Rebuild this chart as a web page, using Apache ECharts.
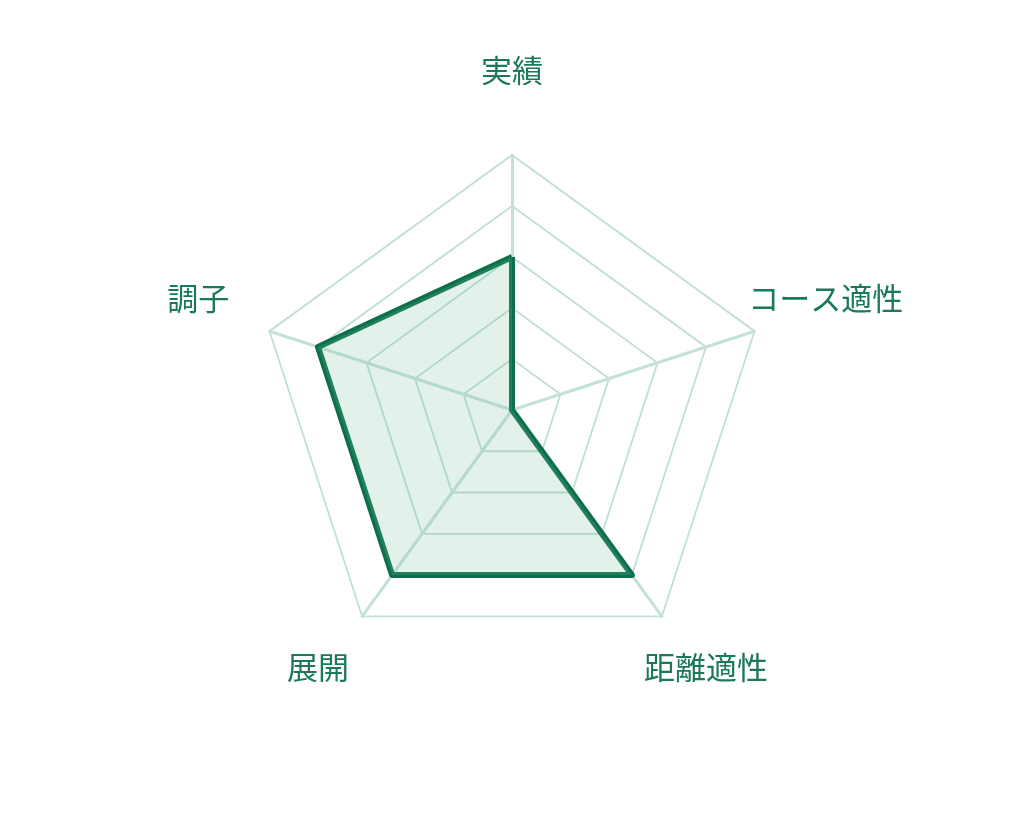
<!DOCTYPE html>
<html><head><meta charset="utf-8">
<script src="https://cdn.jsdelivr.net/npm/echarts@6/dist/echarts.min.js"></script>
<style>html,body{margin:0;padding:0;background:#fff;}#c{width:1024px;height:820px;}</style>
</head><body><div id="c"></div>
<script>
// Listed in ECharts' (counter-clockwise) drawing order, starting at the top
const indicators = ['実績', '調子', '展開', '距離適性', 'コース適性'];
const maxValue = 5;
const values = [3, 4, 4, 4, 0];

const chart = echarts.init(document.getElementById('c'), null, {renderer: 'canvas'});
chart.setOption({
  animation: false,
  backgroundColor: '#ffffff',
  radar: {
    center: ['50%', 410],
    radius: 255,
    startAngle: 90,
    splitNumber: 5,
    shape: 'polygon',
    nameGap: 75,
    axisName: {
      color: '#1a7a57',
      fontSize: 31,
      fontFamily: '"Noto Sans CJK JP", sans-serif',
      align: 'center',
      verticalAlign: 'bottom',
      lineHeight: 20
    },
    indicator: indicators.map(n => ({name: n, max: maxValue, min: 0})),
    splitLine: {lineStyle: {color: '#bfe0d4', width: 1.8}},
    splitArea: {show: false},
    axisLine: {lineStyle: {color: '#c3e2d7', width: 3}},
    axisTick: {show: false},
    axisLabel: {show: false}
  },
  series: [{
    type: 'radar',
    symbol: 'none',
    data: [{
      value: values,
      lineStyle: {color: '#0a6f4a', width: 6},
      areaStyle: {color: 'rgba(125,188,162,0.3)'}
    }]
  }]
});
</script></body></html>
